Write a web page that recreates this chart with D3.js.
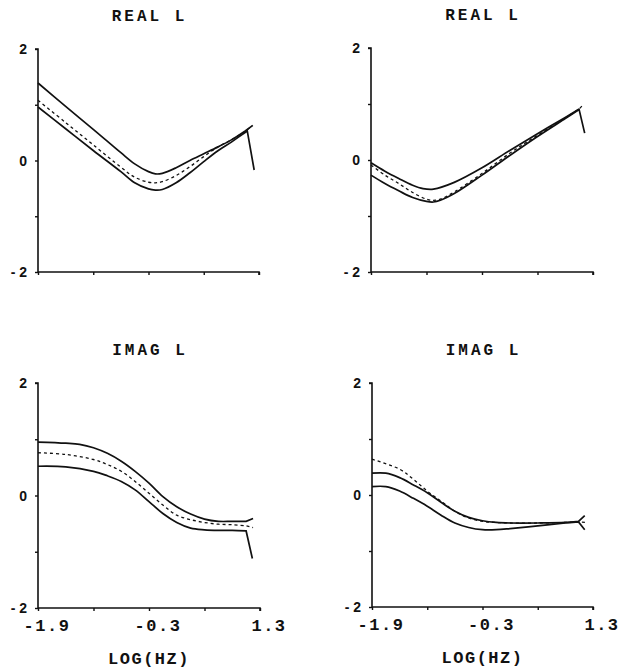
<!DOCTYPE html>
<html>
<head>
<meta charset="utf-8">
<script src="https://cdn.jsdelivr.net/npm/d3@7"></script>
<style>
  html, body { margin: 0; padding: 0; background: #fff; }
  svg { display: block; }
</style>
</head>
<body>
<svg id="chart" width="620" height="670"></svg>
<script>
// ---- data (log10 Hz, value) ----
const xTicks = [-1.9, -1.1, -0.3, 0.5, 1.3];
const xTickLabels = ["-1.9", "", "-0.3", "", "1.3"];
const yTicks = [2, 1, 0, -1, -2];
const yTickLabels = ["2", "", "0", "", "- 2"];
const titles = ["REAL L", "REAL L", "IMAG L", "IMAG L"];
const xAxisTitle = "LOG(HZ)";

// Panel 1 : REAL L (left)
const real1Upper = [[-1.9,1.39],[-1.5,0.97],[-1.1,0.56],[-0.7,0.14],[-0.5,-0.06],[-0.3,-0.20],[-0.2,-0.24],[-0.1,-0.23],[0.1,-0.13],[0.3,0.0],[0.5,0.12],[0.7,0.24],[0.9,0.37],[1.1,0.53],[1.21,0.63]];
const real1Lower = [[-1.9,0.96],[-1.5,0.57],[-1.1,0.18],[-0.7,-0.20],[-0.5,-0.40],[-0.3,-0.51],[-0.2,-0.53],[-0.1,-0.52],[0.1,-0.40],[0.3,-0.22],[0.5,-0.02],[0.7,0.17],[0.9,0.33],[1.05,0.46],[1.13,0.53],[1.23,-0.17]];
const real1Mean  = [[-1.9,1.08],[-1.5,0.68],[-1.1,0.28],[-0.7,-0.12],[-0.5,-0.30],[-0.3,-0.39],[-0.2,-0.40],[-0.1,-0.38],[0.1,-0.27],[0.3,-0.11],[0.5,0.07],[0.7,0.24],[0.9,0.37],[1.1,0.52],[1.2,0.62]];

// Panel 2 : REAL L (right)
const real2Upper = [[-1.9,-0.05],[-1.7,-0.20],[-1.5,-0.33],[-1.3,-0.45],[-1.15,-0.51],[-1.0,-0.52],[-0.7,-0.40],[-0.3,-0.14],[0.1,0.17],[0.5,0.47],[0.9,0.76],[1.1,0.91]];
const real2Lower = [[-1.9,-0.27],[-1.7,-0.42],[-1.5,-0.55],[-1.3,-0.67],[-1.1,-0.74],[-1.0,-0.75],[-0.9,-0.72],[-0.7,-0.60],[-0.3,-0.27],[0.1,0.08],[0.5,0.42],[0.9,0.74],[1.1,0.90],[1.18,0.48]];
const real2Mean  = [[-1.9,-0.09],[-1.7,-0.27],[-1.5,-0.42],[-1.3,-0.58],[-1.1,-0.70],[-1.0,-0.72],[-0.9,-0.70],[-0.7,-0.57],[-0.3,-0.24],[0.1,0.12],[0.5,0.44],[0.9,0.75],[1.1,0.91],[1.16,0.99]];

// Panel 3 : IMAG L (left)
const imag1Upper = [[-1.9,0.95],[-1.5,0.93],[-1.3,0.91],[-1.1,0.85],[-0.9,0.75],[-0.7,0.61],[-0.5,0.43],[-0.3,0.22],[-0.1,-0.02],[0.1,-0.20],[0.3,-0.33],[0.5,-0.42],[0.7,-0.46],[0.9,-0.46],[1.1,-0.46],[1.2,-0.41]];
const imag1Lower = [[-1.9,0.52],[-1.5,0.51],[-1.1,0.43],[-0.9,0.35],[-0.7,0.25],[-0.5,0.10],[-0.3,-0.11],[-0.1,-0.32],[0.1,-0.48],[0.3,-0.58],[0.5,-0.61],[0.7,-0.62],[0.9,-0.62],[1.1,-0.63],[1.19,-1.12]];
const imag1Mean  = [[-1.9,0.76],[-1.5,0.73],[-1.1,0.64],[-0.9,0.55],[-0.7,0.43],[-0.5,0.25],[-0.3,0.04],[-0.1,-0.17],[0.1,-0.35],[0.3,-0.43],[0.5,-0.48],[0.7,-0.51],[0.9,-0.52],[1.1,-0.54],[1.2,-0.57]];

// Panel 4 : IMAG L (right)
const imag2Upper = [[-1.9,0.39],[-1.7,0.39],[-1.5,0.31],[-1.3,0.18],[-1.1,0.04],[-0.9,-0.13],[-0.7,-0.29],[-0.5,-0.40],[-0.3,-0.46],[-0.1,-0.49],[0.1,-0.50],[0.5,-0.50],[0.9,-0.49],[1.09,-0.47],[1.18,-0.37]];
const imag2Lower = [[-1.9,0.15],[-1.7,0.15],[-1.5,0.07],[-1.3,-0.06],[-1.1,-0.20],[-0.9,-0.36],[-0.7,-0.50],[-0.5,-0.58],[-0.3,-0.62],[-0.1,-0.62],[0.1,-0.60],[0.5,-0.55],[0.9,-0.50],[1.09,-0.48],[1.18,-0.62]];
const imag2Mean  = [[-1.9,0.64],[-1.5,0.46],[-1.3,0.28],[-1.1,0.07],[-0.9,-0.11],[-0.7,-0.29],[-0.5,-0.41],[-0.3,-0.47],[-0.1,-0.49],[0.1,-0.50],[0.5,-0.50],[0.9,-0.49],[1.1,-0.48],[1.2,-0.49]];

// ---- layout ----
const panels = [
  { title: titles[0], x0: 38,  x1: 259, yT: 49,  yB: 272, series: [real1Upper, real1Lower, real1Mean], xlabels: false },
  { title: titles[1], x0: 371, x1: 593, yT: 48,  yB: 272, series: [real2Upper, real2Lower, real2Mean], xlabels: false },
  { title: titles[2], x0: 38,  x1: 260, yT: 383, yB: 608, series: [imag1Upper, imag1Lower, imag1Mean], xlabels: true },
  { title: titles[3], x0: 372, x1: 593, yT: 383, yB: 607, series: [imag2Upper, imag2Lower, imag2Mean], xlabels: true }
];

const svg = d3.select("#chart");
const ink = "#111";
const mono = "'Liberation Mono', 'Courier New', monospace";
const sans = "'Liberation Sans', Arial, sans-serif";

panels.forEach(p => {
  const x = d3.scaleLinear().domain([-1.9, 1.3]).range([p.x0, p.x1]);
  const y = d3.scaleLinear().domain([-2, 2]).range([p.yB, p.yT]);
  const g = svg.append("g");

  // title
  g.append("text")
    .attr("x", (p.x0 + p.x1) / 2 + 1)
    .attr("y", p.yT - 28)
    .attr("text-anchor", "middle")
    .attr("font-family", mono)
    .attr("font-weight", "bold")
    .attr("font-size", 16)
    .attr("letter-spacing", 3)
    .attr("fill", ink)
    .text(p.title);

  // y axis
  const yAxis = d3.axisLeft(y).tickValues(yTicks).tickSize(3).tickFormat(() => "");
  const ya = g.append("g").attr("transform", `translate(${p.x0},0)`).call(yAxis);
  ya.select(".domain").attr("stroke", ink).attr("stroke-width", 1.6).attr("d", `M-3,${p.yT}H0V${p.yB}`);
  ya.selectAll(".tick line").attr("stroke", ink).attr("stroke-width", 1.4);

  g.selectAll(".ylab").data(yTicks).enter().append("text")
    .attr("x", p.x0 - 11)
    .attr("y", d => y(d) + 5)
    .attr("text-anchor", "end")
    .attr("font-family", sans)
    .attr("font-weight", "bold")
    .attr("font-size", 14)
    .attr("fill", ink)
    .text((d, i) => yTickLabels[i]);

  // x axis
  const xAxis = d3.axisBottom(x).tickValues(xTicks).tickSize(3).tickFormat(() => "");
  const xa = g.append("g").attr("transform", `translate(0,${p.yB})`).call(xAxis);
  xa.select(".domain").attr("stroke", ink).attr("stroke-width", 1.6).attr("d", `M${p.x0},0H${p.x1}V3`);
  xa.selectAll(".tick line").attr("stroke", ink).attr("stroke-width", 1.4);

  if (p.xlabels) {
    g.selectAll(".xlab").data(xTicks).enter().append("text")
      .attr("x", d => x(d) + 9)
      .attr("y", p.yB + 23)
      .attr("text-anchor", "middle")
      .attr("font-family", mono)
      .attr("font-weight", "bold")
      .attr("font-size", 17)
      .attr("letter-spacing", 1.5)
      .attr("fill", ink)
      .text((d, i) => xTickLabels[i]);

    g.append("text")
      .attr("x", (p.x0 + p.x1) / 2)
      .attr("y", p.yB + 56)
      .attr("text-anchor", "middle")
      .attr("font-family", mono)
      .attr("font-weight", "bold")
      .attr("font-size", 17)
      .attr("letter-spacing", 1.5)
      .attr("fill", ink)
      .text(xAxisTitle);
  }

  // curves: smooth body, straight final segment
  const line = d3.line().x(d => x(d[0])).y(d => y(d[1])).curve(d3.curveCatmullRom.alpha(0.5));
  p.series.forEach((s, i) => {
    const last = s[s.length - 1];
    const d = line(s.slice(0, -1)) + `L${x(last[0])},${y(last[1])}`;
    g.append("path")
      .attr("d", d)
      .attr("fill", "none")
      .attr("stroke", ink)
      .attr("stroke-width", i === 2 ? 1.3 : 1.7)
      .attr("stroke-dasharray", i === 2 ? "3,3" : null)
      .attr("stroke-linejoin", "miter");
  });
});
</script>
</body>
</html>
